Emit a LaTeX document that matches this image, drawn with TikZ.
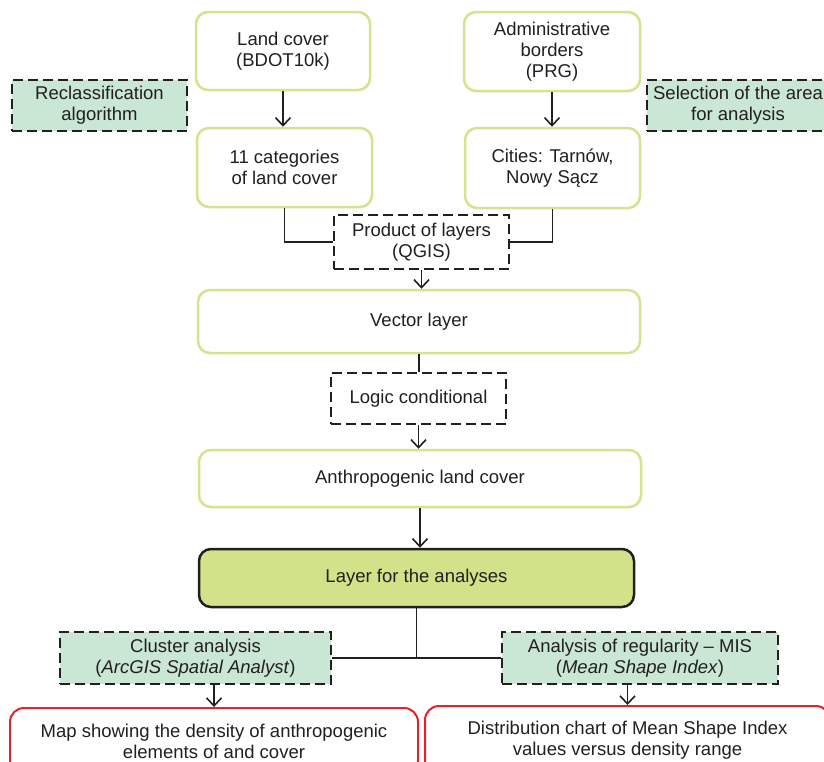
\documentclass[tikz,border=0pt]{standalone}
\usepackage{fontspec}
\setmainfont{Liberation Sans}
\usetikzlibrary{arrows.meta}
\definecolor{boxgreen}{RGB}{212,228,140}
\definecolor{dashfill}{RGB}{202,230,212}
\definecolor{layerfill}{RGB}{210,226,136}
\definecolor{redline}{RGB}{232,32,42}
\definecolor{ink}{RGB}{35,31,32}
\tikzset{
  base/.style={align=center, inner sep=2pt, font=\fontsize{18.5}{21}\selectfont, text=ink},
  solidbox/.style={base, draw=boxgreen, line width=2.5pt, rounded corners=12pt, fill=white},
  dashbox/.style={base, draw=ink, line width=2.6pt, dash pattern=on 10pt off 5pt, fill=white},
  greendash/.style={dashbox, fill=dashfill},
  layerbox/.style={base, draw=ink, line width=2.5pt, rounded corners=12pt, fill=layerfill},
  redbox/.style={base, draw=redline, line width=2pt, rounded corners=14pt, fill=white},
  conn/.style={draw=ink, line width=1.2pt},
  arr/.style={conn, -{Straight Barb[length=8pt,width=15pt,line width=1.6pt]}}
}
\begin{document}
\begin{tikzpicture}[x=1pt,y=-1pt]
\useasboundingbox (0,0) rectangle (824,761);
\clip (0,0) rectangle (824,761);
\fill[white] (0,0) rectangle (824,761);

\node[solidbox, minimum width=174pt, minimum height=78pt] (land) at (283,51) {Land cover\\(BDOT10k)};
\node[solidbox, minimum width=176pt, minimum height=79pt] (admin) at (552,51.5) {Administrative\\borders\\(PRG)};
\node[greendash, minimum width=175pt, minimum height=51pt] (reclass) at (99.5,105.5) {Reclassification\\algorithm};
\node[greendash, minimum width=182pt, minimum height=51pt] (select) at (738,105.5) {Selection of the area\\for analysis};
\node[solidbox, minimum width=175pt, minimum height=79pt] (cats) at (284.5,167.5) {11 categories\\of land cover};
\node[solidbox, minimum width=175pt, minimum height=80pt] (cities) at (552.5,168) {Cities: Tarnów,\\Nowy Sącz};
\node[dashbox, minimum width=175pt, minimum height=54pt] (product) at (421.5,242) {Product of layers\\(QGIS)};
\node[solidbox, minimum width=442pt, minimum height=63pt] (vector) at (419,321.5) {Vector layer};
\node[dashbox, minimum width=175pt, minimum height=51pt] (logic) at (418.5,398.5) {Logic conditional};
\node[solidbox, minimum width=442pt, minimum height=57pt] (anthro) at (420,478.5) {Anthropogenic land cover};
\node[layerbox, minimum width=435pt, minimum height=58pt] (layer) at (416.5,578) {Layer for the analyses};
\node[greendash, minimum width=271pt, minimum height=52pt] (cluster) at (195.5,658) {Cluster analysis\\(\textit{ArcGIS Spatial Analyst})};
\node[greendash, minimum width=276pt, minimum height=52pt] (regul) at (640,658) {Analysis of regularity -- MIS\\(\textit{Mean Shape Index})};
\node[redbox, minimum width=408pt, minimum height=66pt] (map) at (214,741) {Map showing the density of anthropogenic\\elements of and cover};
\node[redbox, minimum width=405pt, minimum height=68pt] (dist) at (627.5,740) {Distribution chart of Mean Shape Index\\values versus density range};

\coordinate (split) at (layer.south |- cluster.east);

\draw[arr] (land.south) -- (land.south |- cats.north);
\draw[arr] (admin.south) -- (admin.south |- cities.north);
\draw[conn] (cats.south) |- (product.west);
\draw[conn] (cities.south) |- (product.east);
\draw[arr] (product.south) -- (product.south |- vector.north);
\draw[conn] (vector.south) -- (vector.south |- logic.north);
\draw[arr] (logic.south) -- (logic.south |- anthro.north);
\draw[arr] (anthro.south) -- (anthro.south |- layer.north);
\draw[conn] (layer.south) -- (split);
\draw[conn] (cluster.east) -- (regul.west);
\draw[arr] (map.north |- cluster.south) -- (map.north);
\draw[arr] (dist.north |- regul.south) -- (dist.north);
\end{tikzpicture}
\end{document}
